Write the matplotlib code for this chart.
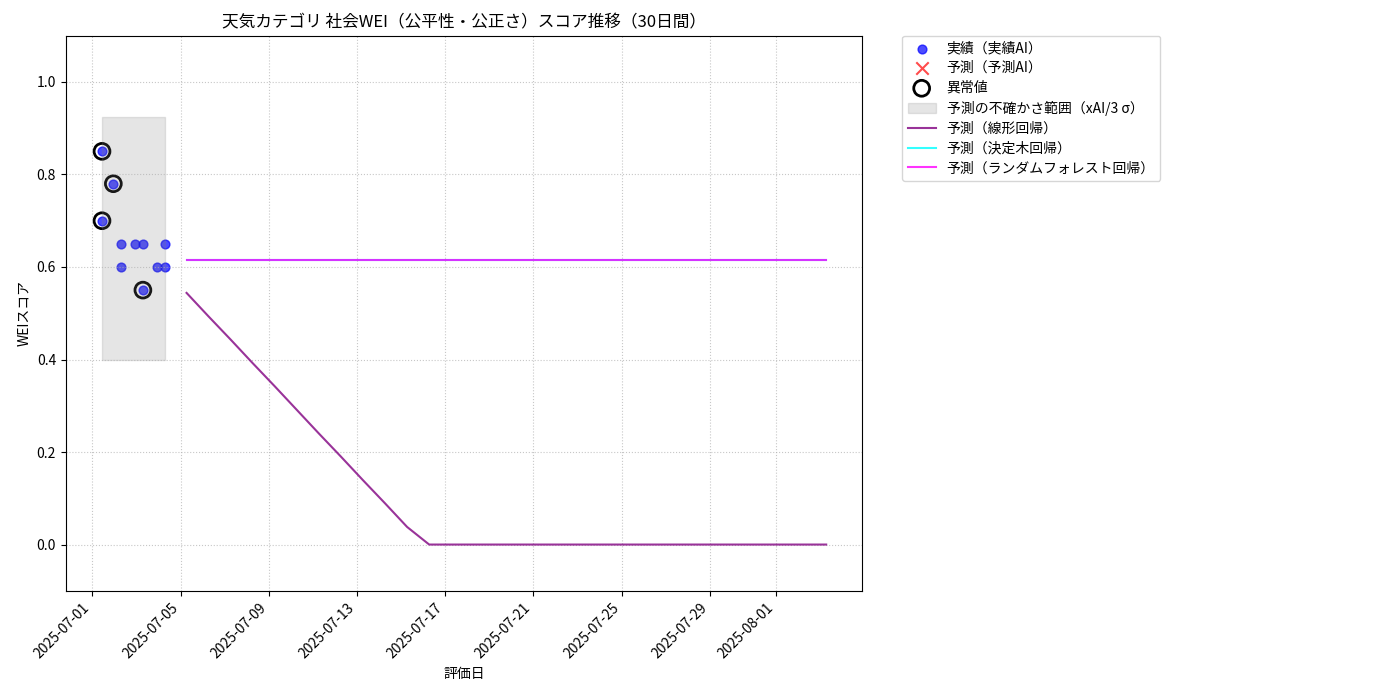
import matplotlib
matplotlib.use("Agg")
import matplotlib.pyplot as plt
import matplotlib.dates as mdates
import pandas as pd

plt.rcParams['font.family'] = ['Noto Sans CJK JP', 'DejaVu Sans']

# 実績データ
actual_dates = pd.to_datetime([
    "2025-07-01 10:30", "2025-07-01 10:30", "2025-07-01 22:50",
    "2025-07-02 06:40", "2025-07-02 06:40", "2025-07-02 22:50",
    "2025-07-03 07:00", "2025-07-03 07:00", "2025-07-03 22:20",
    "2025-07-04 06:30", "2025-07-04 06:30",
])
actual_scores = [0.85, 0.70, 0.78, 0.65, 0.60, 0.65, 0.65, 0.55, 0.60, 0.65, 0.60]
anomaly_flags = [True, True, True, False, False, False, False, True, False, False, False]

# 不確かさ範囲
band_lower = 0.40
band_upper = 0.924

# 予測データ（30日間）
pred_dates = pd.date_range("2025-07-05 06:30", periods=30, freq="D")
pred_linear = [0.544, 0.493, 0.443, 0.392, 0.342, 0.291, 0.240, 0.190, 0.139, 0.089,
               0.038, 0.0, 0.0, 0.0, 0.0, 0.0, 0.0, 0.0, 0.0, 0.0,
               0.0, 0.0, 0.0, 0.0, 0.0, 0.0, 0.0, 0.0, 0.0, 0.0]
pred_tree = [0.615] * 30
pred_forest = [0.615] * 30

fig, ax = plt.subplots(figsize=(14, 7), dpi=100)

ax.scatter(actual_dates, actual_scores, color="blue", alpha=0.7, s=40, label="実績（実績AI）")
ax.scatter([], [], color="red", marker="x", s=80, alpha=0.7, label="予測（予測AI）")
an_d = [d for d, f in zip(actual_dates, anomaly_flags) if f]
an_v = [v for v, f in zip(actual_scores, anomaly_flags) if f]
ax.scatter(an_d, an_v, facecolors="none", edgecolors="black", s=130, linewidths=2, label="異常値")
ax.fill_between([actual_dates[0], actual_dates[-1]], band_lower, band_upper,
                color="gray", alpha=0.2, label="予測の不確かさ範囲（xAI/3 σ）")
ax.plot(pred_dates, pred_linear, color="purple", alpha=0.8, label="予測（線形回帰）")
ax.plot(pred_dates, pred_tree, color="cyan", alpha=0.8, label="予測（決定木回帰）")
ax.plot(pred_dates, pred_forest, color="magenta", alpha=0.8, label="予測（ランダムフォレスト回帰）")

ax.set_ylim(-0.1, 1.1)
ax.xaxis.set_major_locator(mdates.DayLocator(bymonthday=range(1, 32, 4)))
ax.xaxis.set_major_formatter(mdates.DateFormatter("%Y-%m-%d"))
plt.setp(ax.get_xticklabels(), rotation=45, ha="right")
ax.grid(True, linestyle=":", alpha=0.7)

ax.set_title("天気カテゴリ 社会WEI（公平性・公正さ）スコア推移（30日間）")
ax.set_xlabel("評価日")
ax.set_ylabel("WEIスコア")
ax.legend(bbox_to_anchor=(1.05, 1), loc="upper left", borderaxespad=0, labelspacing=0.42)

fig.subplots_adjust(left=0.047, right=0.616, top=0.949, bottom=0.156)
fig.savefig("out.png")
